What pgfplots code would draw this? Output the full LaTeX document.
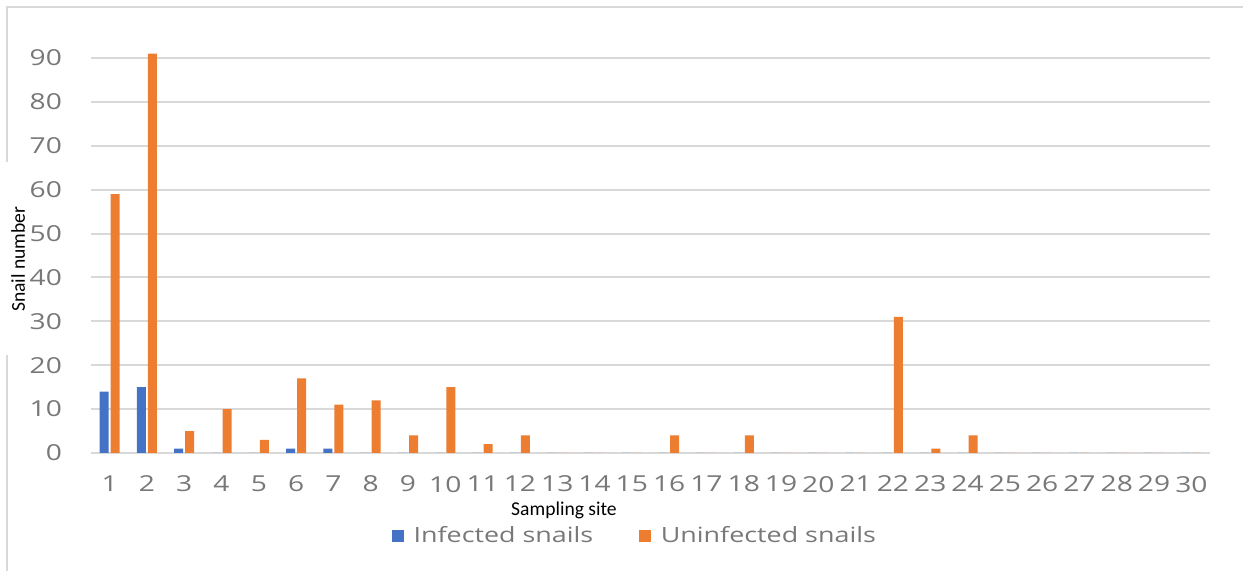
\documentclass[border=0pt]{standalone}
\usepackage{fontspec}
\setmainfont{Open Sans}
\newfontfamily\wide[FakeStretch=1.28]{Open Sans}
\newfontfamily\calibri{Carlito}
\usepackage{pgfplots}
\pgfplotsset{compat=1.18}

\definecolor{infected}{HTML}{4472C4}
\definecolor{uninfected}{HTML}{ED7D31}
\definecolor{gridgray}{HTML}{D9D9D9}
\definecolor{ticktext}{RGB}{120,120,120}
\definecolor{framegray}{HTML}{D9D9D9}

\begin{document}
\begin{tikzpicture}
% page size, measured from the axis' lower left corner
\useasboundingbox (-45.5pt,-59pt) rectangle (576pt,226.5pt);
% the light frame of the original picture
\draw[framegray, line width=1.3pt] (-42pt,-59pt) -- (-42pt,49pt);
\draw[framegray, line width=1.3pt] (-42pt,145.5pt) -- (-42pt,223pt) -- (576pt,223pt);

\begin{axis}[
    scale only axis,
    width=559.5pt, height=201.9pt,
    ybar=1pt, bar width=4.5pt,
    xmin=0.5, xmax=30.5,
    ymin=0, ymax=92,
    xtick={1,...,30},
    ytick={0,10,...,90},
    ymajorgrids=true,
    grid style={gridgray, line width=1pt},
    axis line style={draw=none},
    major tick length=0pt,
    /pgf/number format/assume math mode=true,
    tick label style={font=\wide\fontsize{11}{13}\selectfont, text=ticktext},
    yticklabel style={xshift=-11pt},
    xticklabel style={yshift=-8pt},
    xlabel={Sampling site},
    ylabel={Snail number},
    xlabel style={font=\calibri\fontsize{9.8}{11}\selectfont, at={(axis description cs:0.4227,-0.143)}, anchor=center},
    ylabel style={font=\calibri\fontsize{9.8}{11}\selectfont, at={(axis description cs:-0.0652,0.48)}, anchor=center},
    legend columns=2,
    legend style={draw=none, fill=none, at={(axis description cs:0.487,-0.2056)}, anchor=center,
        font=\wide\fontsize{10.5}{12}\selectfont, text=ticktext,
        /tikz/every odd column/.append style={column sep=3pt},
        /tikz/every even column/.append style={column sep=21pt}},
    legend image code/.code={\fill[#1] (0pt,-2.9pt) rectangle (5.8pt,2.9pt);},
]
\addplot[fill=infected, draw=none] coordinates {
    (1,14) (2,15) (3,1) (4,0) (5,0) (6,1) (7,1) (8,0) (9,0) (10,0)
    (11,0) (12,0) (13,0) (14,0) (15,0) (16,0) (17,0) (18,0) (19,0) (20,0)
    (21,0) (22,0) (23,0) (24,0) (25,0) (26,0) (27,0) (28,0) (29,0) (30,0)
};
\addplot[fill=uninfected, draw=none] coordinates {
    (1,59) (2,91) (3,5) (4,10) (5,3) (6,17) (7,11) (8,12) (9,4) (10,15)
    (11,2) (12,4) (13,0) (14,0) (15,0) (16,4) (17,0) (18,4) (19,0) (20,0)
    (21,0) (22,31) (23,1) (24,4) (25,0) (26,0) (27,0) (28,0) (29,0) (30,0)
};
\legend{Infected snails, Uninfected snails}
\end{axis}
\end{tikzpicture}
\end{document}
